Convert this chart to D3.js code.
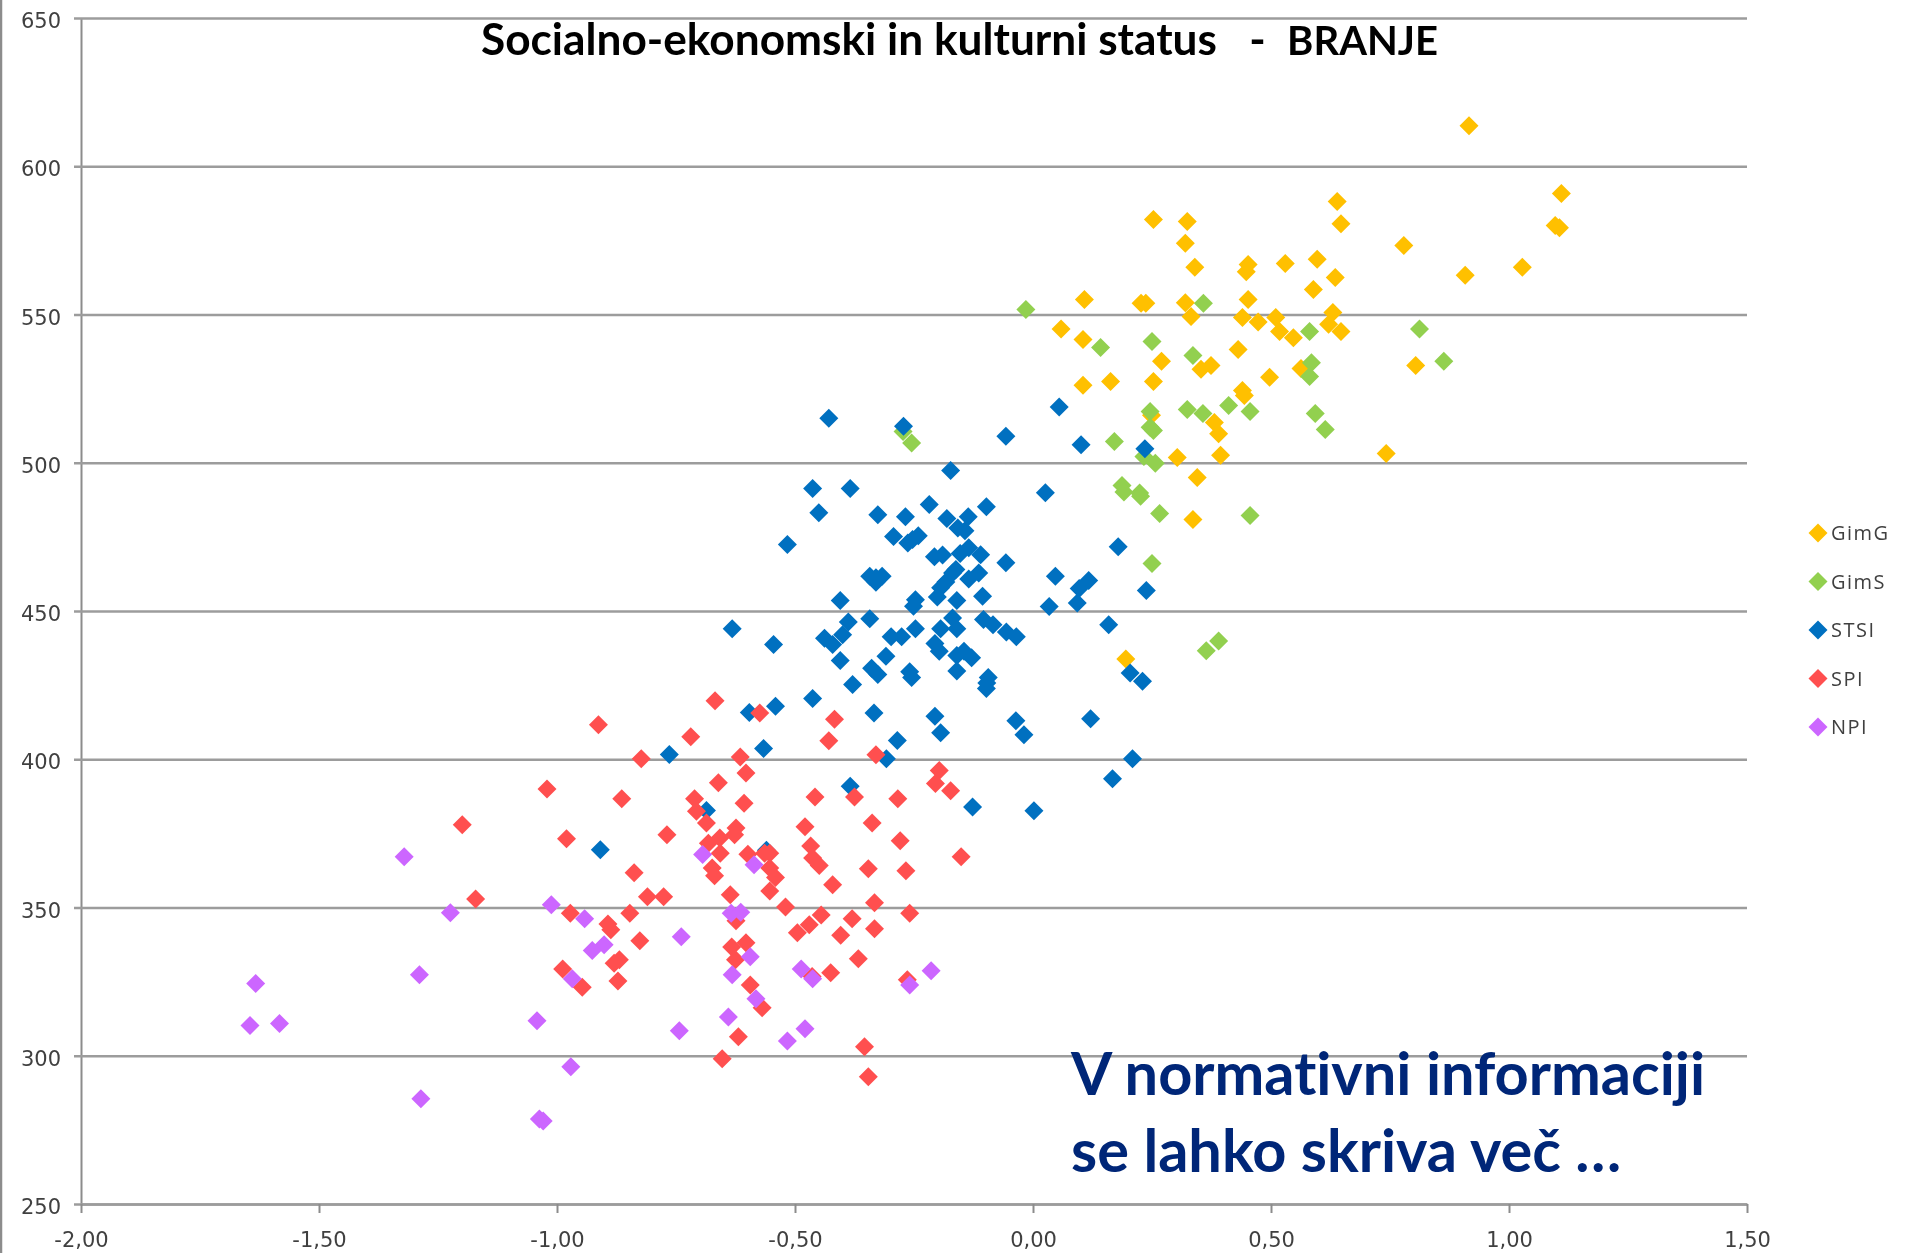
<!DOCTYPE html>
<html>
<head>
<meta charset="utf-8">
<script src="https://cdn.jsdelivr.net/npm/d3@7"></script>
<style>
  body { margin: 0; background: #fff; }
  svg { display: block; }
  .axis text { font-family: "DejaVu Sans", sans-serif; font-size: 21px; fill: #404040; }
  .legend text { font-family: "Open Sans", sans-serif; font-size: 20px; fill: #404040; letter-spacing: 1.5px; }
  .title { font-family: Lato, sans-serif; font-weight: 700; font-size: 44.2px; fill: #000; white-space: pre; font-variant-ligatures: none; }
  .title .tail { font-size: 40px; }
  .note { font-family: Lato, sans-serif; font-weight: 700; font-size: 59.5px; fill: #002878; font-variant-ligatures: none; }
</style>
</head>
<body>
<svg id="chart" width="1915" height="1253"></svg>
<script>
const WIDTH = 1915
const HEIGHT = 1253
// plot area edges
const LEFT = 81
const RIGHT = 1747
const TOP = 18
const BOTTOM = 1204
// diamond half diagonal
const R = 9.5

const xTicks = [-2, -1.5, -1, -0.5, 0, 0.5, 1, 1.5]
const yTicks = [250, 300, 350, 400, 450, 500, 550, 600, 650]

const titleText = 'Socialno-ekonomski in kulturni status   -  '
const titleTail = 'BRANJE'
const noteLines = ['V normativni informaciji', 'se lahko skriva več …']

const gimG = [
  [0.916, 613.7], [1.110, 590.8], [0.639, 588.1], [0.647, 580.6], [0.253, 582.0], [0.324, 581.4],
  [1.097, 580.0], [1.106, 579.3], [0.320, 574.0], [0.779, 573.3], [0.340, 565.9], [0.452, 566.9],
  [0.448, 564.4], [0.530, 567.2], [0.597, 568.6], [0.635, 562.5], [0.908, 563.2], [1.028, 565.9],
  [0.589, 558.4], [0.108, 555.1], [0.452, 555.1], [0.227, 553.8], [0.237, 553.8], [0.320, 554.0],
  [0.332, 549.3], [0.440, 549.0], [0.510, 549.0], [0.630, 550.7], [0.473, 547.5], [0.621, 546.7],
  [0.059, 545.1], [0.518, 544.3], [0.647, 544.3], [0.547, 542.2], [0.105, 541.6], [0.431, 538.2],
  [0.270, 534.2], [0.374, 532.8], [0.353, 531.5], [0.563, 531.8], [0.804, 532.8], [0.163, 527.4],
  [0.105, 526.1], [0.253, 527.4], [0.497, 528.8], [0.440, 524.4], [0.444, 522.7], [0.249, 516.0],
  [0.381, 513.6], [0.390, 509.8], [0.303, 501.8], [0.394, 502.5], [0.742, 503.1], [0.345, 495.0],
  [0.336, 480.9], [0.195, 433.8]
]

const gimS = [
  [-0.015, 551.7], [0.358, 553.8], [0.812, 545.1], [0.581, 544.3], [0.250, 540.9], [0.142, 538.9],
  [0.336, 536.2], [0.863, 534.2], [0.585, 533.7], [0.581, 529.1], [0.324, 518.0], [0.357, 516.6],
  [0.411, 519.3], [0.456, 517.3], [0.593, 516.6], [0.246, 517.3], [0.614, 511.2], [0.246, 512.0],
  [0.253, 510.9], [0.171, 507.2], [0.233, 502.1], [0.257, 499.8], [0.187, 492.3], [0.191, 490.1],
  [0.224, 489.8], [0.226, 488.7], [0.266, 482.9], [0.456, 482.2], [0.250, 466.0], [0.364, 436.6],
  [0.390, 439.9], [-0.255, 506.7], [-0.273, 510.5]
]

const stsi = [
  [-0.429, 515.0], [-0.272, 512.3], [-0.057, 508.9], [0.055, 518.8], [0.101, 506.1], [0.235, 504.7],
  [-0.173, 497.4], [-0.463, 491.3], [-0.384, 491.3], [0.026, 489.9], [-0.098, 485.2], [-0.218, 485.9],
  [-0.450, 483.1], [-0.326, 482.5], [-0.268, 481.8], [-0.181, 481.2], [-0.136, 481.8], [-0.158, 478.0],
  [-0.143, 477.1], [-0.293, 475.1], [-0.241, 475.4], [-0.253, 474.1], [-0.263, 472.9], [-0.516, 472.4],
  [0.179, 471.7], [-0.135, 471.3], [-0.153, 469.4], [-0.110, 469.0], [-0.207, 468.3], [-0.190, 468.9],
  [-0.057, 466.3], [-0.162, 464.0], [-0.114, 462.8], [-0.135, 460.8], [-0.169, 462.8], [-0.317, 461.7],
  [-0.343, 461.7], [-0.330, 459.7], [-0.330, 461.2], [0.047, 461.7], [0.117, 460.3], [0.097, 457.6],
  [0.238, 456.9], [-0.183, 459.8], [-0.194, 457.8], [-0.106, 455.0], [-0.201, 454.7], [-0.247, 453.8],
  [-0.251, 451.6], [-0.405, 453.5], [-0.160, 453.5], [0.093, 452.7], [0.034, 451.5], [-0.343, 447.4],
  [-0.388, 446.3], [-0.169, 447.6], [0.159, 445.4], [-0.104, 447.1], [-0.084, 445.4], [-0.160, 444.0],
  [-0.247, 444.0], [-0.194, 444.0], [-0.056, 442.9], [-0.035, 441.3], [-0.298, 441.3], [-0.276, 441.3],
  [-0.400, 442.0], [-0.632, 444.0], [-0.438, 440.8], [-0.421, 438.7], [-0.545, 438.7], [-0.206, 439.0],
  [-0.197, 436.4], [-0.309, 434.7], [-0.160, 435.0], [-0.145, 436.4], [-0.129, 434.2], [-0.405, 433.3],
  [-0.339, 430.7], [-0.326, 428.6], [-0.259, 429.5], [-0.255, 427.6], [-0.160, 429.8], [-0.379, 425.2],
  [-0.094, 427.6], [-0.097, 425.7], [-0.098, 423.9], [0.204, 429.1], [0.230, 426.3], [-0.463, 420.5],
  [-0.541, 417.9], [-0.596, 415.8], [-0.334, 415.6], [-0.206, 414.5], [-0.036, 413.0], [0.121, 413.7],
  [-0.194, 408.9], [-0.019, 408.3], [-0.285, 406.3], [-0.566, 403.6], [-0.764, 401.6], [-0.308, 400.2],
  [0.209, 400.2], [0.167, 393.4], [-0.384, 390.9], [-0.127, 383.9], [0.002, 382.6], [-0.686, 382.7],
  [-0.909, 369.5], [-0.560, 369.3]
]

const spi = [
  [-0.668, 419.7], [-0.913, 411.6], [-0.574, 415.6], [-0.417, 413.5], [-0.719, 407.6], [-0.429, 406.2],
  [-0.823, 400.2], [-0.615, 400.8], [-0.330, 401.5], [-0.603, 395.4], [-0.197, 396.2], [-0.205, 391.8],
  [-0.173, 389.4], [-0.661, 392.1], [-1.021, 390.0], [-0.864, 386.7], [-0.711, 386.7], [-0.458, 387.3],
  [-0.375, 387.3], [-0.284, 386.7], [-0.607, 385.2], [-0.707, 382.5], [-0.686, 378.5], [-1.199, 377.9],
  [-0.338, 378.5], [-0.479, 377.2], [-0.624, 376.8], [-0.627, 374.5], [-0.769, 374.5], [-0.980, 373.2],
  [-0.658, 373.4], [-0.682, 371.7], [-0.279, 372.5], [-0.467, 370.7], [-0.151, 367.1], [-0.657, 368.3],
  [-0.599, 368.0], [-0.564, 368.3], [-0.553, 368.3], [-0.463, 366.7], [-0.449, 364.2], [-0.346, 363.1],
  [-0.267, 362.4], [-0.674, 363.3], [-0.669, 360.7], [-0.838, 361.7], [-0.553, 363.3], [-0.541, 360.1],
  [-0.421, 357.7], [-0.553, 355.6], [-0.636, 354.3], [-1.171, 352.9], [-0.810, 353.6], [-0.776, 353.6],
  [-0.520, 350.2], [-0.333, 351.6], [-0.445, 347.5], [-0.972, 348.1], [-0.847, 348.1], [-0.259, 348.1],
  [-0.380, 346.2], [-0.624, 345.5], [-0.470, 344.2], [-0.893, 344.4], [-0.887, 342.5], [-0.495, 341.5],
  [-0.333, 342.8], [-0.404, 340.6], [-0.826, 338.8], [-0.603, 338.1], [-0.633, 336.7], [-0.367, 332.7],
  [-0.625, 332.4], [-0.869, 332.4], [-0.880, 331.2], [-0.988, 329.3], [-0.425, 328.0], [-0.872, 325.2],
  [-0.464, 326.7], [-0.264, 325.6], [-0.947, 323.1], [-0.594, 323.9], [-0.569, 316.2], [-0.619, 306.4],
  [-0.354, 303.0], [-0.653, 299.0], [-0.346, 292.9]
]

const npi = [
  [-1.321, 367.1], [-0.694, 367.9], [-0.586, 364.4], [-1.224, 348.2], [-1.012, 350.9], [-0.942, 346.2],
  [-0.634, 348.1], [-0.614, 348.4], [-0.739, 340.1], [-0.901, 337.4], [-0.926, 335.5], [-0.594, 333.4],
  [-1.289, 327.3], [-0.632, 327.3], [-0.968, 326.0], [-0.487, 329.3], [-0.463, 326.0], [-0.214, 328.7],
  [-0.259, 323.9], [-0.582, 319.2], [-0.640, 313.1], [-1.042, 311.8], [-0.479, 309.1], [-0.743, 308.4],
  [-0.516, 305.0], [-0.971, 296.3], [-1.286, 285.5], [-1.037, 278.7], [-1.029, 278.0], [-1.633, 324.4],
  [-1.645, 310.2], [-1.583, 310.9]
]

const seriesNames = ['GimG', 'GimS', 'STSI', 'SPI', 'NPI']
const seriesValues = [gimG, gimS, stsi, spi, npi]
const seriesColors = ['#ffc000', '#92d050', '#0070c0', '#ff5050', '#cc66ff']

const svg = d3.select('#chart')

const x = d3.scaleLinear().domain([-2, 1.5]).range([LEFT, RIGHT])
const y = d3.scaleLinear().domain([250, 650]).range([BOTTOM, TOP])

// square diamond, d3.symbolDiamond is too tall for this
const diamond = {
  draw(ctx, size) {
    const r = Math.sqrt(size) / 2
    ctx.moveTo(0, -r)
    ctx.lineTo(r, 0)
    ctx.lineTo(0, r)
    ctx.lineTo(-r, 0)
    ctx.closePath()
  }
}
const marker = d3.symbol().type(diamond).size(4 * R * R)

const comma = (d) => d3.format('.2f')(d).replace('.', ',').replace('−', '-')

// the image was scaled up, everything in it is a little soft
const soft = svg.append('defs').append('filter').attr('id', 'soft')
soft.append('feGaussianBlur').attr('stdDeviation', 0.5)

const plot = svg.append('g').attr('filter', 'url(#soft)')

// grey edge of the slide on the far left
plot.append('line')
  .attr('x1', 1).attr('x2', 1)
  .attr('y1', 0).attr('y2', HEIGHT)
  .attr('stroke', '#8c8c8c')
  .attr('stroke-width', 2.5)

// y axis, tick lines stretched over the plot as the grid
plot.append('g')
  .attr('class', 'axis')
  .attr('transform', `translate(${LEFT},0)`)
  .call(d3.axisLeft(y).tickValues(yTicks).tickSizeInner(0).tickSizeOuter(0).tickPadding(20))
  .call((g) => {
    g.select('.domain').attr('stroke', '#8c8c8c').attr('stroke-width', 2)
    g.selectAll('.tick line')
      .attr('x1', -7)
      .attr('x2', RIGHT - LEFT)
      .attr('stroke', '#9c9c9c')
      .attr('stroke-width', 2.5)
    g.selectAll('.tick text').attr('dy', '0.46em')
  })

plot.append('g')
  .attr('class', 'axis')
  .attr('transform', `translate(0,${BOTTOM})`)
  .call(d3.axisBottom(x).tickValues(xTicks).tickFormat(comma).tickSizeInner(9).tickSizeOuter(0).tickPadding(19))
  .call((g) => {
    g.select('.domain').attr('stroke', '#9c9c9c').attr('stroke-width', 2.5)
    g.selectAll('.tick line').attr('stroke', '#8c8c8c').attr('stroke-width', 2)
  })

// later series sit on top of earlier ones
plot.selectAll('.series')
  .data(seriesValues)
  .join('g')
  .attr('class', 'series')
  .attr('fill', (d, i) => seriesColors[i])
  .selectAll('path')
  .data((d) => d)
  .join('path')
  .attr('d', marker)
  .attr('transform', (d) => `translate(${x(d[0])},${y(d[1])})`)

const legendY = d3.scalePoint().domain(seriesNames).range([533, 727])

const legend = plot.append('g')
  .attr('class', 'legend')
  .selectAll('g')
  .data(seriesNames)
  .join('g')
  .attr('transform', (d) => `translate(1818,${legendY(d)})`)

legend.append('path')
  .attr('d', marker)
  .attr('fill', (d, i) => seriesColors[i])

legend.append('text')
  .attr('x', 13)
  .attr('dy', '0.36em')
  .text((d) => d)

const title = plot.append('text')
  .attr('class', 'title')
  .attr('x', 481)
  .attr('y', 55)
title.append('tspan').text(titleText)
title.append('tspan').attr('class', 'tail').text(titleTail)

plot.selectAll('.note')
  .data(noteLines)
  .join('text')
  .attr('class', 'note')
  .attr('x', 1071)
  .attr('y', (d, i) => (i === 0 ? 1095 : 1172))
  .text((d) => d)
</script>
</body>
</html>
